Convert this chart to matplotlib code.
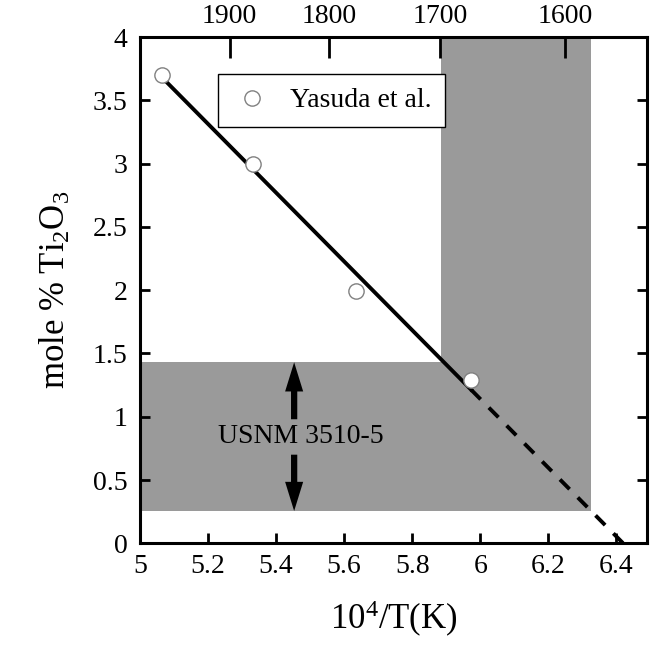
import matplotlib
matplotlib.use('Agg')
import matplotlib.pyplot as plt
from matplotlib.patches import FancyArrowPatch
import numpy as np

plt.rcParams['font.family'] = ['Liberation Serif', 'DejaVu Serif']
plt.rcParams['mathtext.fontset'] = 'custom'
plt.rcParams['mathtext.rm'] = 'Liberation Serif'
plt.rcParams['mathtext.it'] = 'Liberation Serif:italic'

# Yasuda et al. data
invT = np.array([5.065, 5.333, 5.634, 5.973])
mole = np.array([3.70, 3.00, 1.99, 1.29])

# temperatures for the top axis (K)
T_top = [1900, 1800, 1700, 1600]

# USNM 3510-5 ranges
usnm_x = [5.0, 6.326]
usnm_y = [0.255, 1.43]
band_x = [5.885, 6.326]
band_y = [1.43, 4.0]
arrow_x = 5.453

fig = plt.figure(figsize=(6.53, 6.45), dpi=100)
ax = fig.add_axes([0.2144, 0.1577, 0.7764, 0.7849])

grey = '#9a9a9a'
ax.fill_between(usnm_x, usnm_y[0], usnm_y[1], color=grey, lw=0, zorder=1)
ax.fill_between(band_x, band_y[0], band_y[1], color=grey, lw=0, zorder=1)

# regression line
a, b = np.polyfit(invT, mole, 1)
xs = np.array([invT[0], invT[-1]])
ax.plot(xs, a*xs + b, 'k-', lw=2.8, zorder=2)
x0 = -b/a
xd = np.array([invT[-1], x0])
ax.plot(xd, a*xd + b, 'k', lw=2.8, dashes=(3.5, 3.0), zorder=2)

ax.plot(invT, mole, 'o', ms=11, mfc='white', mec='#808080', mew=1.0,
        zorder=3, label='Yasuda et al.')

# arrows and label
style = 'simple,head_length=2.1,head_width=1.3,tail_width=0.45'
for y_from, y_to in [(0.98, usnm_y[1]), (0.70, usnm_y[0])]:
    ax.add_patch(FancyArrowPatch((arrow_x, y_from), (arrow_x, y_to),
                                 arrowstyle=style, mutation_scale=10,
                                 color='k', lw=0, shrinkA=0, shrinkB=0,
                                 zorder=4))
ax.text(5.474, 0.84, 'USNM 3510-5', fontsize=20, ha='center', va='center',
        zorder=4)

ax.set_xlim(5, 6.49)
ax.set_ylim(0, 4)
ax.set_xticks([5, 5.2, 5.4, 5.6, 5.8, 6, 6.2, 6.4])
ax.set_xticklabels(['5', '5.2', '5.4', '5.6', '5.8', '6', '6.2', '6.4'])
ax.set_yticks([0, 0.5, 1, 1.5, 2, 2.5, 3, 3.5, 4])
ax.set_yticklabels(['0', '0.5', '1', '1.5', '2', '2.5', '3', '3.5', '4'])
ax.tick_params(axis='x', direction='in', length=7, width=2, labelsize=20,
               pad=8, top=False)
ax.tick_params(axis='y', direction='in', length=7, width=2, labelsize=20,
               pad=9, right=True)
for s in ax.spines.values():
    s.set_linewidth(2.2)

ax.set_xlabel('10$^4$/T(K)', fontsize=25, labelpad=14)
ax.set_ylabel('mole % Ti$_2$O$_3$', fontsize=25, labelpad=14)

ax2 = ax.twiny()
ax2.set_xlim(ax.get_xlim())
ax2.set_xticks([1e4/t for t in T_top])
ax2.set_xticklabels([str(t) for t in T_top])
ax2.tick_params(axis='x', direction='in', length=15, width=2, labelsize=20,
                pad=6)

leg = ax.legend(loc='upper left', bbox_to_anchor=(0.153, 0.927), fontsize=20,
                frameon=True, fancybox=False, edgecolor='k', framealpha=1,
                handletextpad=0.6, borderpad=0.5, handlelength=1.5,
                borderaxespad=0)
leg.get_frame().set_linewidth(1.0)

fig.savefig('out.png', dpi=100)
